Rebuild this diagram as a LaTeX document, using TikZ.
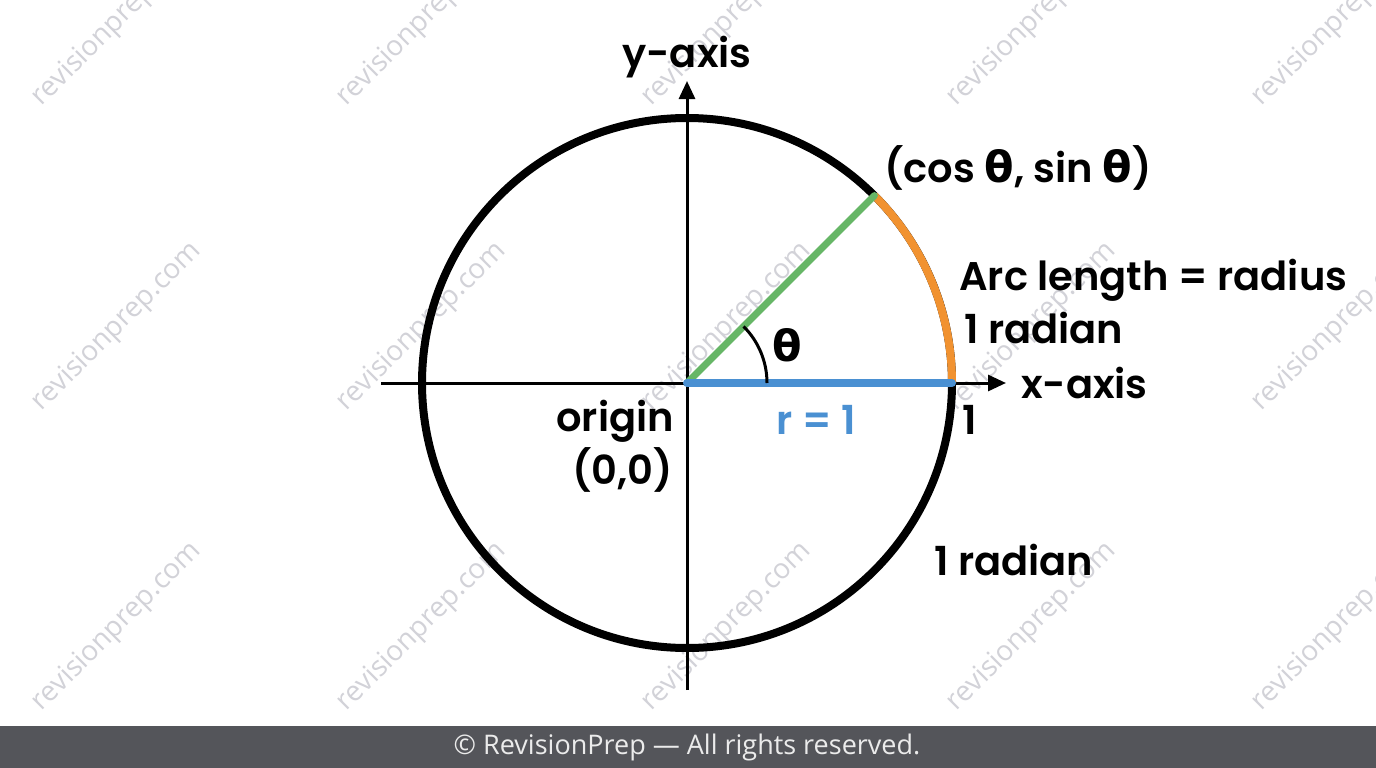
\documentclass[tikz,border=0pt]{standalone}
\usepackage{fontspec}
\setmainfont{Poppins}
\newfontfamily\popsb{Poppins SemiBold}
\newfontfamily\gr{DejaVu Sans}
\newfontfamily\wm{Open Sans}
\usetikzlibrary{arrows.meta,calc}
\definecolor{wmgray}{RGB}{210,210,216}
\definecolor{barcol}{RGB}{84,85,90}
\definecolor{bluec}{RGB}{74,144,210}
\definecolor{greenc}{RGB}{102,182,102}
\definecolor{orangec}{RGB}{241,146,48}
\newcommand{\thet}{{\gr\bfseries\fontsize{43}{44}\selectfont\char"03B8}}
\tikzset{
  lbl/.style={font=\popsb\fontsize{40}{44}\selectfont, inner sep=0pt, text=black},
  axis/.style={line width=3pt, -{Triangle[length=18pt,width=16pt]}},
  wmark/.style={font=\wm\fontsize{28}{30}\selectfont, text=wmgray, rotate=45, inner sep=0pt}
}
\begin{document}
\begin{tikzpicture}[x=1pt,y=-1pt]
\useasboundingbox (0,0) rectangle (1376,768);
\fill[white] (0,0) rectangle (1376,768);
% watermarks
\foreach \cx in {117,422,727,1032,1337}{
  \foreach \cy in {22,327,627}{
    \node[wmark] (wm-\cx-\cy) at (\cx,\cy) {revisionprep.com};
  }
}
% footer
\fill[barcol] (0,726) rectangle (1376,768);
\node[font=\wm\fontsize{27}{29}\selectfont, text=white!92!black, inner sep=0pt] (footer) at (687,747) {\textcopyright{} RevisionPrep — All rights reserved.};
% coordinates
\coordinate (O) at (687,383);
\coordinate (xs) at (381,383);
\coordinate (xe) at (1006,383);
\coordinate (ys) at (687,690);
\coordinate (ye) at (687,81);
\coordinate (A) at (952,383);
\coordinate (P) at (874.4,195.6);
% axes
\draw[axis] (xs) -- (xe);
\draw[axis] (ys) -- (ye);
% circle
\draw[line width=8pt] (O) circle[radius=265];
% orange arc
\draw[orangec, line width=8pt] (A) arc[start angle=0, end angle=-45, radius=265];
% radius lines
\draw[greenc, line width=7pt, line cap=round] (O) -- (P);
\draw[bluec, line width=8pt, line cap=round] (O) -- (A);
% angle arc
\draw[line width=3pt] (767,383) arc[start angle=0, end angle=-45, radius=80];
% labels
\node[lbl] (ylab) at (687,57) {y-axis};
\node[lbl, anchor=west] (plab) at (884,168) {(cos \thet, sin \thet)};
\node[lbl, anchor=west] (arclab) at (959,280) {Arc length = radius};
\node[lbl, anchor=west] (rad1) at (964,328) {1 radian};
\node[lbl, anchor=west] (xlab) at (1021,383) {x-axis};
\node[lbl] (thlab) at (787,345) {\thet};
\node[lbl] (one) at (970,420) {1};
\node[lbl, text=bluec] (rlab) at (816,420) {r = 1};
\node[lbl, anchor=east] (orig) at (674,421) {origin};
\node[lbl, anchor=east] (zero) at (673,470) {(0,0)};
\node[lbl, anchor=west] (rad2) at (934,560) {1 radian};
\end{tikzpicture}
\end{document}
